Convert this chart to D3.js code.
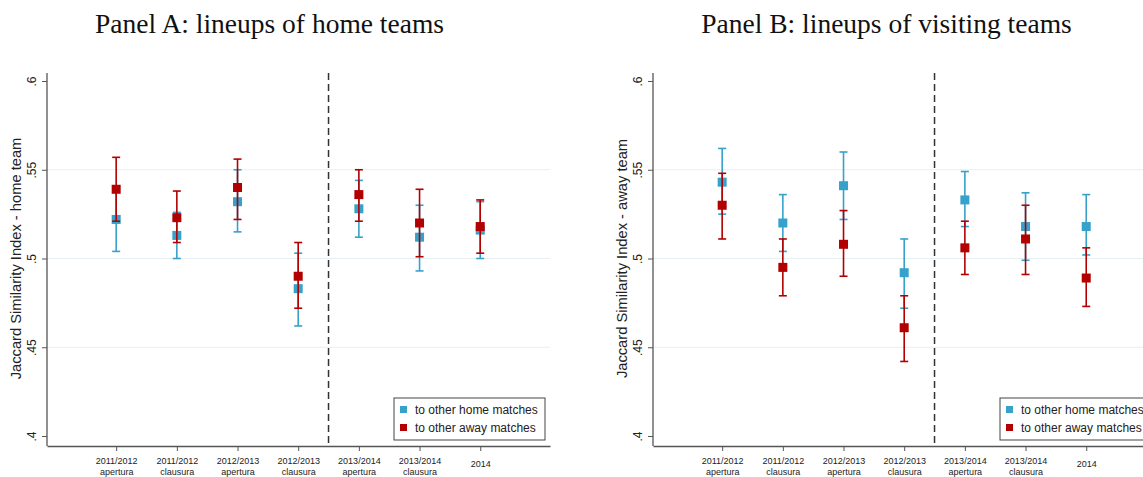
<!DOCTYPE html>
<html>
<head>
<meta charset="utf-8">
<script src="https://cdn.jsdelivr.net/npm/d3@7"></script>
<style>
  body { margin: 0; background: #fff; }
  svg { display: block; }
</style>
</head>
<body>
<div id="chart"></div>
<script>
const W = 1143, H = 477;

// categories (two-line tick labels)
const categories = [
  ["2011/2012", "apertura"], ["2011/2012", "clausura"],
  ["2012/2013", "apertura"], ["2012/2013", "clausura"],
  ["2013/2014", "apertura"], ["2013/2014", "clausura"],
  ["2014", ""]
];
const yTicks = [0.4, 0.45, 0.5, 0.55, 0.6];
const yTickLabels = [".4", ".45", ".5", ".55", ".6"];
const seriesNames = ["to other home matches", "to other away matches"];

// Panel A: home teams
const homeA_mean = [0.522, 0.513, 0.532, 0.483, 0.528, 0.512, 0.516];
const homeA_lo   = [0.504, 0.500, 0.515, 0.462, 0.512, 0.493, 0.500];
const homeA_hi   = [0.540, 0.526, 0.550, 0.503, 0.544, 0.530, 0.532];
const awayA_mean = [0.539, 0.523, 0.540, 0.490, 0.536, 0.520, 0.518];
const awayA_lo   = [0.521, 0.509, 0.522, 0.472, 0.521, 0.501, 0.503];
const awayA_hi   = [0.557, 0.538, 0.556, 0.509, 0.550, 0.539, 0.533];

// Panel B: visiting teams
const homeB_mean = [0.543, 0.520, 0.541, 0.492, 0.533, 0.518, 0.518];
const homeB_lo   = [0.525, 0.504, 0.522, 0.472, 0.518, 0.499, 0.502];
const homeB_hi   = [0.562, 0.536, 0.560, 0.511, 0.549, 0.537, 0.536];
const awayB_mean = [0.530, 0.495, 0.508, 0.461, 0.506, 0.511, 0.489];
const awayB_lo   = [0.511, 0.479, 0.490, 0.442, 0.491, 0.491, 0.473];
const awayB_hi   = [0.548, 0.511, 0.527, 0.479, 0.521, 0.530, 0.506];

const BLUE = "#36a2cb", RED = "#b20000";
const AXIS = "#555";

const svg = d3.select("#chart").append("svg")
  .attr("width", W).attr("height", H);

function rows(mean, lo, hi) {
  return mean.map((m, i) => ({ i: i + 1, m: m, lo: lo[i], hi: hi[i] }));
}

function drawPanel(opt) {
  const g = svg.append("g");
  const x = d3.scaleLinear().domain([-0.14, 8.15]).range([opt.left, opt.left + 503]);
  const y = d3.scaleLinear().domain([0.4, 0.6]).range([436, 81]);
  const axisY = 446;

  // title
  g.append("text")
    .attr("x", opt.titleX).attr("y", 33)
    .attr("text-anchor", "middle")
    .style("font-family", "'Liberation Serif', serif")
    .style("font-size", "27.5px")
    .attr("fill", "#111")
    .text(opt.title);

  // grid
  g.selectAll("line.grid").data(yTicks.slice(1, 4)).enter().append("line")
    .attr("x1", x.range()[0]).attr("x2", x.range()[1])
    .attr("y1", d => y(d)).attr("y2", d => y(d))
    .attr("stroke", "#e6eff2").attr("stroke-width", 1.2);

  // y axis
  const yAxis = d3.axisLeft(y).tickValues(yTicks)
    .tickFormat((d, i) => yTickLabels[i]).tickSize(5).tickSizeOuter(0);
  const ya = g.append("g").attr("transform", `translate(${opt.left},0)`).call(yAxis);
  ya.select(".domain").attr("d", `M0,73V${axisY}`).attr("stroke", AXIS).attr("stroke-width", 1.3);
  ya.selectAll(".tick line").attr("stroke", AXIS);
  ya.selectAll(".tick text")
    .attr("x", 0).attr("y", 0).attr("dy", 0)
    .attr("transform", "translate(-11,0) rotate(-90)")
    .attr("text-anchor", "middle")
    .style("font-family", "'Liberation Sans', Arial, sans-serif")
    .style("font-size", "12px").attr("fill", "#222");

  g.append("text")
    .attr("transform", `translate(${opt.left - 26},${(y(0.4) + y(0.6)) / 2}) rotate(-90)`)
    .attr("text-anchor", "middle")
    .style("font-family", "'Liberation Sans', Arial, sans-serif")
    .style("font-size", "14.7px").attr("fill", "#222")
    .text(opt.yTitle);

  // x axis
  const xAxis = d3.axisBottom(x).tickValues(d3.range(1, 8)).tickSize(5).tickSizeOuter(0).tickFormat("");
  const xa = g.append("g").attr("transform", `translate(0,${axisY})`).call(xAxis);
  xa.select(".domain").attr("stroke", AXIS).attr("stroke-width", 1.5);
  xa.selectAll(".tick line").attr("stroke", AXIS);
  xa.selectAll(".tick").each(function(d) {
    const c = categories[d - 1];
    const t = d3.select(this).append("text")
      .attr("text-anchor", "middle").attr("fill", "#222")
      .style("font-family", "'Liberation Sans', Arial, sans-serif")
      .style("font-size", "9px");
    if (c[1] === "") {
      t.append("tspan").attr("x", 0).attr("y", 21).text(c[0]);
    } else {
      t.append("tspan").attr("x", 0).attr("y", 18).text(c[0]);
      t.append("tspan").attr("x", 0).attr("y", 29).text(c[1]);
    }
  });

  // dashed separator
  g.append("line")
    .attr("x1", x(4.5)).attr("x2", x(4.5))
    .attr("y1", 73).attr("y2", axisY)
    .attr("stroke", "#333").attr("stroke-width", 1.5)
    .attr("stroke-dasharray", "7,4");

  // series
  [[opt.home, BLUE], [opt.away, RED]].forEach(([data, col]) => {
    const s = g.append("g");
    s.selectAll("line.bar").data(data).enter().append("line")
      .attr("x1", d => x(d.i)).attr("x2", d => x(d.i))
      .attr("y1", d => y(d.lo)).attr("y2", d => y(d.hi))
      .attr("stroke", col).attr("stroke-width", 1.6);
    ["lo", "hi"].forEach(k => {
      s.selectAll("line.cap-" + k).data(data).enter().append("line")
        .attr("x1", d => x(d.i) - 4).attr("x2", d => x(d.i) + 4)
        .attr("y1", d => y(d[k])).attr("y2", d => y(d[k]))
        .attr("stroke", col).attr("stroke-width", 1.6);
    });
    s.selectAll("rect").data(data).enter().append("rect")
      .attr("x", d => x(d.i) - 4.5).attr("y", d => y(d.m) - 4.5)
      .attr("width", 9).attr("height", 9)
      .attr("fill", col);
  });

  // legend
  const lg = g.append("g").attr("transform", `translate(${opt.left + 347},398)`);
  lg.append("rect").attr("width", 151).attr("height", 42)
    .attr("fill", "#fff").attr("stroke", "#444").attr("stroke-width", 1);
  seriesNames.forEach((n, i) => {
    lg.append("rect").attr("x", 6).attr("y", 8 + i * 18).attr("width", 7).attr("height", 7)
      .attr("fill", i === 0 ? BLUE : RED);
    lg.append("text").attr("x", 21).attr("y", 16 + i * 18)
      .style("font-family", "'Liberation Sans', Arial, sans-serif")
      .style("font-size", "12px").attr("fill", "#222")
      .text(n);
  });
}

drawPanel({
  left: 47, titleX: 269.5,
  title: "Panel A: lineups of home teams",
  yTitle: "Jaccard Similarity Index - home team",
  home: rows(homeA_mean, homeA_lo, homeA_hi),
  away: rows(awayA_mean, awayA_lo, awayA_hi)
});
drawPanel({
  left: 653, titleX: 886.5,
  title: "Panel B: lineups of visiting teams",
  yTitle: "Jaccard Similarity Index - away team",
  home: rows(homeB_mean, homeB_lo, homeB_hi),
  away: rows(awayB_mean, awayB_lo, awayB_hi)
});
</script>
</body>
</html>
